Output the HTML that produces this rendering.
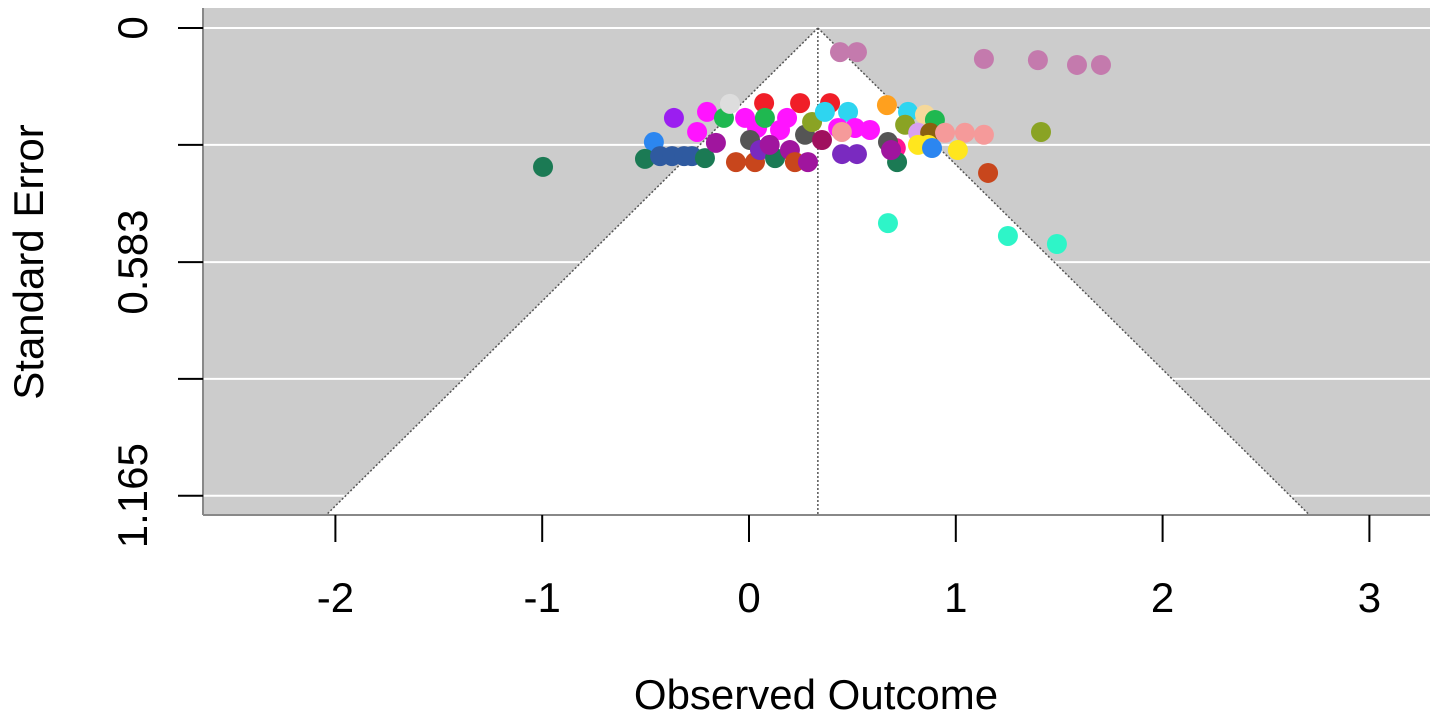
<!DOCTYPE html>
<html><head><meta charset="utf-8"><style>
html,body{margin:0;padding:0;background:#fff;}
svg{display:block;font-family:"Liberation Sans",Arial,sans-serif;}
</style></head><body>
<svg id="chart" width="1441" height="721" viewBox="0 0 1441 721" xmlns="http://www.w3.org/2000/svg">
<rect x="203" y="8" width="1227" height="507" fill="#cccccc"/>
<g id="grid"></g>
<polygon id="funnel" fill="#ffffff"/>
<g id="funnelLines"></g>
<g id="points"></g>
<line x1="203" y1="8" x2="203" y2="515" stroke="#888" stroke-width="2"/>
<line x1="203" y1="515" x2="1430" y2="515" stroke="#888" stroke-width="2"/>
<g id="xaxis"></g>
<g id="yaxis"></g>
<text x="816" y="709" font-size="42" text-anchor="middle" fill="#000">Observed Outcome</text>
<text transform="translate(43,262) rotate(-90)" font-size="42" text-anchor="middle" fill="#000">Standard Error</text>
</svg>
<script>
const xTicks = [-2,-1,0,1,2,3];
const yTicks = [0,0.291,0.583,0.874,1.165];
const yTickLabels = ["0","","0.583","","1.165"];
const center = 0.333;
const seMax = 1.213;
const xs = [-0.996,0.44,0.522,1.136,1.397,1.586,1.702,0.672,1.252,1.489,1.412,1.156,-0.363,-0.46,-0.503,-0.43,-0.372,-0.314,-0.276,-0.213,-0.203,-0.251,-0.16,-0.121,-0.092,-0.063,0.029,0.073,0.247,0.392,-0.019,0.039,0.077,0.005,0.053,0.126,0.15,0.184,0.1,0.198,0.222,0.285,0.271,0.305,0.353,0.367,0.479,0.431,0.513,0.449,0.45,0.522,0.585,0.667,0.769,0.755,0.851,0.899,0.818,0.876,0.948,1.044,1.136,1.01,0.817,0.866,0.885,0.71,0.672,0.716,0.687];
const ses = [0.346,0.06,0.06,0.077,0.08,0.092,0.092,0.486,0.518,0.538,0.259,0.361,0.224,0.284,0.326,0.319,0.319,0.319,0.319,0.324,0.209,0.259,0.286,0.224,0.189,0.334,0.334,0.187,0.187,0.187,0.224,0.249,0.224,0.279,0.304,0.324,0.254,0.224,0.291,0.304,0.334,0.334,0.266,0.234,0.279,0.209,0.209,0.249,0.249,0.259,0.314,0.314,0.254,0.192,0.209,0.241,0.216,0.229,0.261,0.261,0.261,0.261,0.266,0.304,0.291,0.291,0.299,0.299,0.284,0.334,0.304];
const colors = ["#1b7a54","#c47aad","#c47aad","#c47aad","#c47aad","#c47aad","#c47aad","#2ef5c8","#2ef5c8","#2ef5c8","#8aa324","#c8461c","#9b1ef0","#2c86f0","#1b7a54","#2f5aa0","#2f5aa0","#2f5aa0","#2f5aa0","#1b7a54","#ff14ff","#ff14ff","#a0159e","#1fb850","#dddddd","#c8461c","#c8461c","#f01e28","#f01e28","#f01e28","#ff14ff","#ff14ff","#1fb850","#555555","#7a2ac0","#1b7a54","#ff14ff","#ff14ff","#a0159e","#a0159e","#c8461c","#a0159e","#555555","#8aa324","#a0105e","#2ed5f0","#2ed5f0","#ff14ff","#ff14ff","#f59a9a","#7a2ac0","#7a2ac0","#ff14ff","#ffa01e","#2ed5f0","#8aa324","#f5d89a","#1fb850","#d8a0f0","#8a6010","#f59a9a","#f59a9a","#f59a9a","#ffe61e","#ffe61e","#ffe61e","#2c86f0","#ff1493","#555555","#1b7a54","#a0159e"];

const NS="http://www.w3.org/2000/svg";
const X = v => 749 + v*206.8;
const Y = v => 28 + v*401.5;
function mk(tag, attrs, parent){const e=document.createElementNS(NS,tag);for(const k in attrs)e.setAttribute(k,attrs[k]);parent.appendChild(e);return e;}
const grid=document.getElementById('grid'), xa=document.getElementById('xaxis'), ya=document.getElementById('yaxis');
yTicks.forEach((t,i)=>{
  const g=mk('line',{x1:203,x2:1430,y1:Y(t),y2:Y(t),stroke:'#ffffff','stroke-width':2},grid);
  
  
  const tk=mk('line',{x1:178,x2:203,y1:Y(t),y2:Y(t),stroke:'#000','stroke-width':2},ya);
  
  
  if(yTickLabels[i]){
    const tx=mk('text',{transform:`translate(147,${Y(t)}) rotate(-90)`,'font-size':42,'text-anchor':'middle',fill:'#000'},ya);
    tx.textContent=yTickLabels[i];
    
    
  }
});
xTicks.forEach(t=>{
  const tk=mk('line',{x1:X(t),x2:X(t),y1:515,y2:542,stroke:'#000','stroke-width':2},xa);
  
  
  const tx=mk('text',{x:X(t),y:612,'font-size':42,'text-anchor':'middle',fill:'#000'},xa);
  tx.textContent=String(t);
  
  
});
const yb=Y(seMax), xl=X(center-1.96*seMax), xr=X(center+1.96*seMax), xc=X(center);
document.getElementById('funnel').setAttribute('points',`${xc},${Y(0)} ${xl},${yb} ${xr},${yb}`);
const fl=document.getElementById('funnelLines');
[[xc,Y(0),xl,yb],[xc,Y(0),xr,yb],[xc,Y(0),xc,yb]].forEach(s=>{
  const l=mk('line',{x1:s[0],y1:s[1],x2:s[2],y2:s[3],stroke:'#555','stroke-width':1.5,'stroke-dasharray':'2,2'},fl);
  
  
});
const pg=document.getElementById('points');
xs.forEach((v,i)=>{
  const c=mk('circle',{cx:X(v),cy:Y(ses[i]),r:10,fill:colors[i]},pg);
  
  
});
</script>
</body></html>
